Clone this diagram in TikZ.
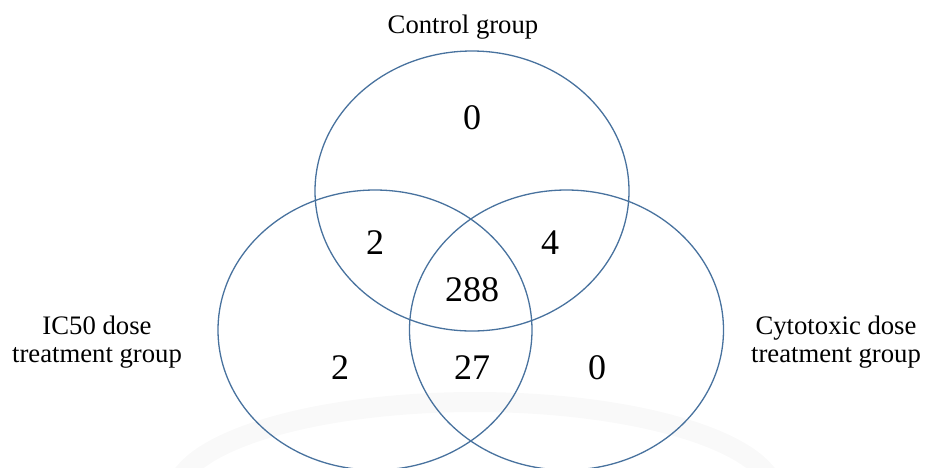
\documentclass[tikz,border=0pt]{standalone}
\usepackage{fontspec}
\setmainfont{Liberation Serif}
\usetikzlibrary{shapes.geometric}
\definecolor{vennblue}{RGB}{72,114,158}
\tikzset{
  vennset/.style={ellipse, draw=vennblue, line width=1.3pt, minimum width=314pt, minimum height=280pt, inner sep=0pt},
  count/.style={font=\fontsize{36}{40}\selectfont, inner sep=0pt},
  grouplabel/.style={font=\fontsize{26.7}{28}\selectfont, align=center, inner sep=0pt}
}
\begin{document}
\begin{tikzpicture}[x=1pt,y=-1pt]
\useasboundingbox (0,0) rectangle (925,467);
% faint watermark ring
\draw[black!2.5, line width=20pt] (475,496) ellipse [x radius=300, y radius=94];
\node[vennset] (ctrl) at (472,191) {};
\node[vennset] (ic50) at (375,330) {};
\node[vennset] (cyto) at (566.5,330) {};
\node[grouplabel] (lctrl) at (463,27) {Control group};
\node[grouplabel] (lic50) at (97,342) {IC50 dose\\treatment group};
\node[grouplabel] (lcyto) at (836,342) {Cytotoxic dose\\treatment group};
\node[count] (n1) at (472,118) {0};
\node[count] (n2) at (375,243) {2};
\node[count] (n3) at (550,243) {4};
\node[count] (n4) at (472,290) {288};
\node[count] (n5) at (340,368) {2};
\node[count] (n6) at (472,368) {27};
\node[count] (n7) at (597,368) {0};
\end{tikzpicture}
\end{document}
